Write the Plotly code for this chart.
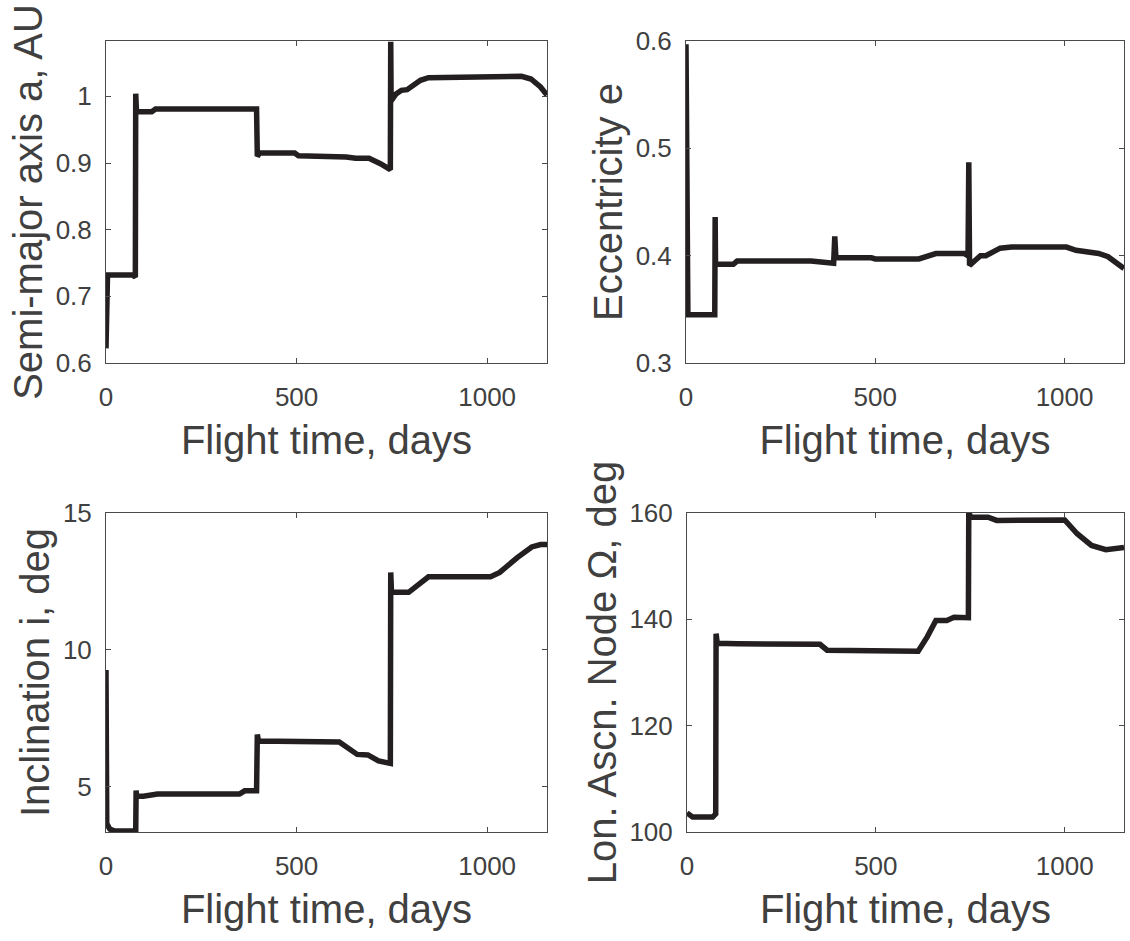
import plotly.graph_objects as go
from plotly.subplots import make_subplots

# ---- data ----
t_a = [0, 4, 70, 74, 77, 78, 80, 120, 130, 395, 397, 403, 495, 505, 600, 630, 655, 690, 720, 746,
       747, 748, 760, 775, 790, 805, 825, 846, 950, 1000, 1060, 1090, 1115, 1140, 1157]
a_vals = [0.622, 0.732, 0.732, 0.729, 0.729, 1.004, 0.977, 0.977, 0.981, 0.981, 0.910, 0.915, 0.915,
          0.911, 0.911, 0.909, 0.907, 0.907, 0.899, 0.890, 1.082, 0.993, 1.003, 1.009, 1.010, 1.017,
          1.024, 1.028, 1.028, 1.028, 1.030, 1.030, 1.026, 1.014, 1.002]

t_e = [0, 3, 5, 76, 77, 78, 125, 135, 330, 390, 393, 396, 490, 500, 615, 640, 660, 735, 745, 747,
       749, 765, 778, 792, 810, 830, 860, 1005, 1030, 1090, 1115, 1135, 1157]
e_vals = [0.597, 0.350, 0.345, 0.345, 0.436, 0.392, 0.392, 0.395, 0.395, 0.393, 0.418, 0.398, 0.398,
          0.397, 0.397, 0.400, 0.402, 0.402, 0.400, 0.487, 0.391, 0.396, 0.400, 0.400, 0.404, 0.407,
          0.408, 0.408, 0.405, 0.402, 0.399, 0.394, 0.388]

t_i = [0, 1, 2, 10, 23, 78, 79, 80, 98, 135, 350, 364, 395, 397, 400, 612, 630, 659, 687, 715, 746,
       747, 749, 794, 822, 846, 1009, 1033, 1079, 1117, 1140, 1157]
i_vals = [9.26, 5.5, 3.65, 3.45, 3.38, 3.38, 4.86, 4.65, 4.65, 4.73, 4.73, 4.85, 4.85, 6.91, 6.67,
          6.63, 6.45, 6.18, 6.16, 5.94, 5.85, 12.83, 12.10, 12.10, 12.40, 12.67, 12.67, 12.83, 13.37,
          13.76, 13.85, 13.85]

t_o = [0, 15, 68, 76, 77, 80, 134, 352, 371, 494, 612, 636, 659, 688, 707, 745, 746, 751, 797, 820,
       1000, 1033, 1071, 1109, 1157]
o_vals = [103.6, 102.8, 102.8, 103.4, 137.3, 135.5, 135.4, 135.3, 134.2, 134.1, 134.0, 136.7, 139.8,
          139.8, 140.4, 140.3, 160.2, 159.2, 159.2, 158.6, 158.7, 156.1, 153.9, 153.1, 153.5]

x_ticks = [0, 500, 1000]
x_title = "Flight time, days"
y_titles = ["Semi-major axis a, AU", "Eccentricity e", "Inclination i, deg", "Lon. Ascn. Node \u03A9, deg"]
y_ranges = [[0.6, 1.083], [0.3, 0.6], [3.345, 15], [100, 160]]
y_ticks = [[0.6, 0.7, 0.8, 0.9, 1.0], [0.3, 0.4, 0.5, 0.6], [5, 10, 15], [100, 120, 140, 160]]
y_ticktext = [["0.6", "0.7", "0.8", "0.9", "1"], ["0.3", "0.4", "0.5", "0.6"], ["5", "10", "15"],
              ["100", "120", "140", "160"]]
x_max = 1157

W, H = 1130, 941
LINE = "#231f20"
AX = "#4a4a4a"
TXT = "#404040"
FONT = "Liberation Sans, Arial, Helvetica, sans-serif"

fig = make_subplots(rows=2, cols=2)
series = [(t_a, a_vals), (t_e, e_vals), (t_i, i_vals), (t_o, o_vals)]
pos = [(1, 1), (1, 2), (2, 1), (2, 2)]
for (tx, ty), (r, c) in zip(series, pos):
    fig.add_trace(go.Scatter(x=tx, y=ty, mode="lines",
                             line=dict(color=LINE, width=5.5),
                             showlegend=False, hoverinfo="skip"), row=r, col=c)

# panel pixel boxes (left, right, top, bottom)
boxes = [(106, 547, 41, 363), (686, 1124, 41, 363), (106, 547, 513, 832), (687, 1124, 513, 832)]

for k, (l, rr, tp, bt) in enumerate(boxes):
    xs = "xaxis" if k == 0 else f"xaxis{k+1}"
    ys = "yaxis" if k == 0 else f"yaxis{k+1}"
    fig.layout[xs].update(
        domain=[l / W, rr / W], range=[0, x_max], tickvals=x_ticks,
        ticks="inside", ticklen=5, tickcolor=AX, showline=True, linecolor=AX, linewidth=1,
        mirror="ticks", showgrid=False, zeroline=False,
        tickfont=dict(family=FONT, size=26, color=TXT),
        title=dict(text=x_title, font=dict(family=FONT, size=40, color=TXT), standoff=14),
        automargin=False, ticklabelstandoff=11,
    )
    fig.layout[ys].update(
        domain=[1 - bt / H, 1 - tp / H], range=y_ranges[k], tickvals=y_ticks[k], ticktext=y_ticktext[k],
        ticks="inside", ticklen=5, tickcolor=AX, showline=True, linecolor=AX, linewidth=1,
        mirror="ticks", showgrid=False, zeroline=False,
        tickfont=dict(family=FONT, size=26, color=TXT),
        title=dict(text=y_titles[k], font=dict(family=FONT, size=40, color=TXT), standoff=0),
        automargin=False, ticklabelstandoff=8,
    )

fig.update_layout(width=W, height=H, margin=dict(l=0, r=0, t=0, b=0),
                  plot_bgcolor="white", paper_bgcolor="white",
                  font=dict(family=FONT, color=TXT))
fig.write_html("out.html")
